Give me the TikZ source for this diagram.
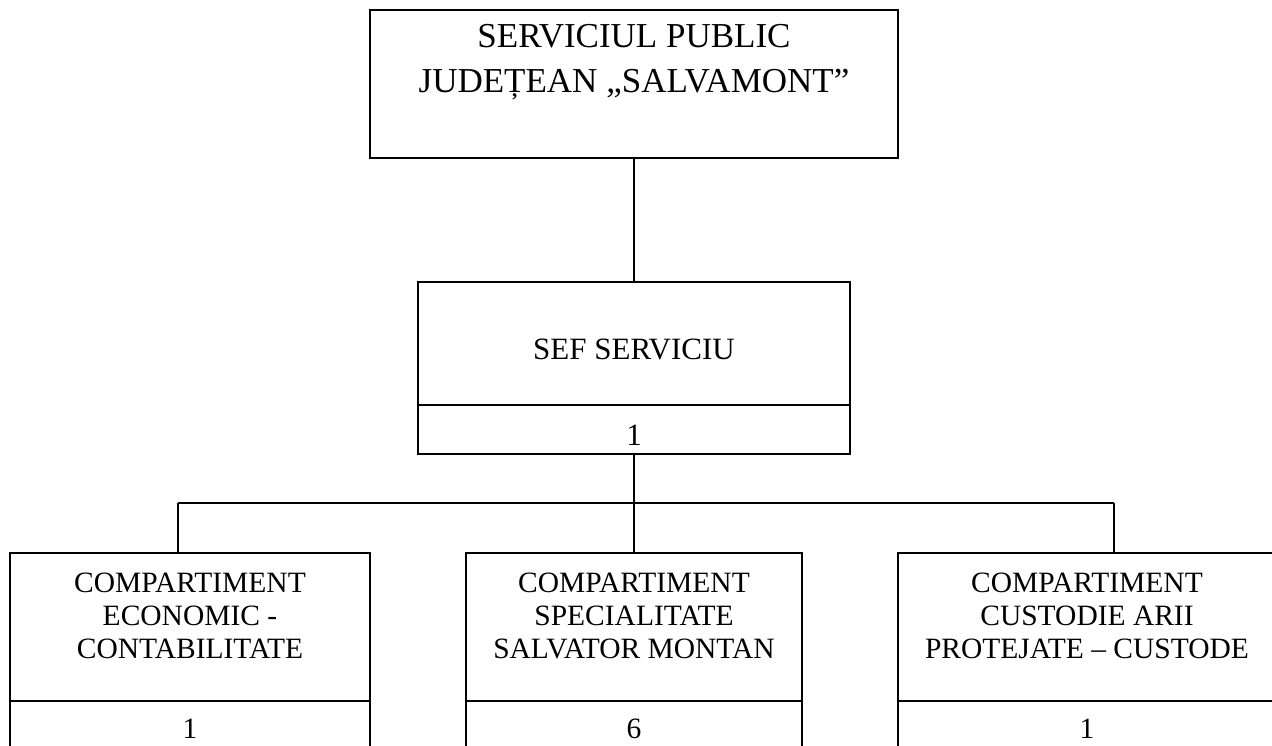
\documentclass[tikz,border=0pt]{standalone}
\usepackage{fontspec}
\setmainfont{Liberation Serif}
\begin{document}
\begin{tikzpicture}[x=1pt,y=-1pt,
  box/.style={draw=black,line width=1.6pt,rectangle,inner sep=0pt},
  conn/.style={draw=black,line width=1.6pt},
  big/.style={font=\fontsize{35}{45}\selectfont,inner sep=0pt,align=center},
  mid/.style={font=\fontsize{31}{33}\selectfont,inner sep=0pt,align=center},
  txt/.style={font=\fontsize{29.5}{33}\selectfont,inner sep=0pt,align=center}]
\useasboundingbox (0,0) rectangle (1272,746);
\clip (0,0) rectangle (1272,746);
% top box
\node[box,minimum width=528pt,minimum height=148pt] (top) at (634,84) {};
\node[big,anchor=north] (topT) at (634,24) {SERVICIUL PUBLIC\\JUDEȚEAN „SALVAMONT”};
% sef box
\node[box,minimum width=432pt,minimum height=123pt] (sef) at (634,343.5) {};
\node[box,minimum width=432pt,minimum height=49pt] (sefN) at (634,429.5) {};
\node[mid,anchor=base] (sefT) at (634,359) {SEF SERVICIU};
\node[mid,anchor=base] (sefC) at (634,445) {1};
% bottom boxes
\node[box,minimum width=360pt,minimum height=148pt] (ca) at (190,627) {};
\node[box,minimum width=360pt,minimum height=100pt] (caN) at (190,751) {};
\node[box,minimum width=336pt,minimum height=148pt] (cb) at (634,627) {};
\node[box,minimum width=336pt,minimum height=100pt] (cbN) at (634,751) {};
\node[box,minimum width=378pt,minimum height=148pt] (cc) at (1087,627) {};
\node[box,minimum width=378pt,minimum height=100pt] (ccN) at (1087,751) {};
\node[txt,anchor=north] (caT) at (190,572.5) {COMPARTIMENT\\ECONOMIC -\\CONTABILITATE};
\node[txt,anchor=north] (cbT) at (634,572.5) {COMPARTIMENT\\SPECIALITATE\\SALVATOR MONTAN};
\node[txt,anchor=north] (ccT) at (1087,572.5) {COMPARTIMENT\\CUSTODIE ARII\\PROTEJATE – CUSTODE};
\node[txt,anchor=base] (caC) at (190,738) {1};
\node[txt,anchor=base] (cbC) at (634,738) {6};
\node[txt,anchor=base] (ccC) at (1087,738) {1};
% connectors
\coordinate (hl) at (178,503);
\coordinate (hm) at (634,503);
\coordinate (hr) at (1114,503);
\draw[conn] (top.south) -- (sef.north);
\draw[conn] (sefN.south) -- (hm);
\draw[conn] (hl) -- (hr);
\draw[conn] (hl) -- (hl |- ca.north);
\draw[conn] (hm) -- (cb.north);
\draw[conn] (hr) -- (hr |- cc.north);
\end{tikzpicture}
\end{document}
